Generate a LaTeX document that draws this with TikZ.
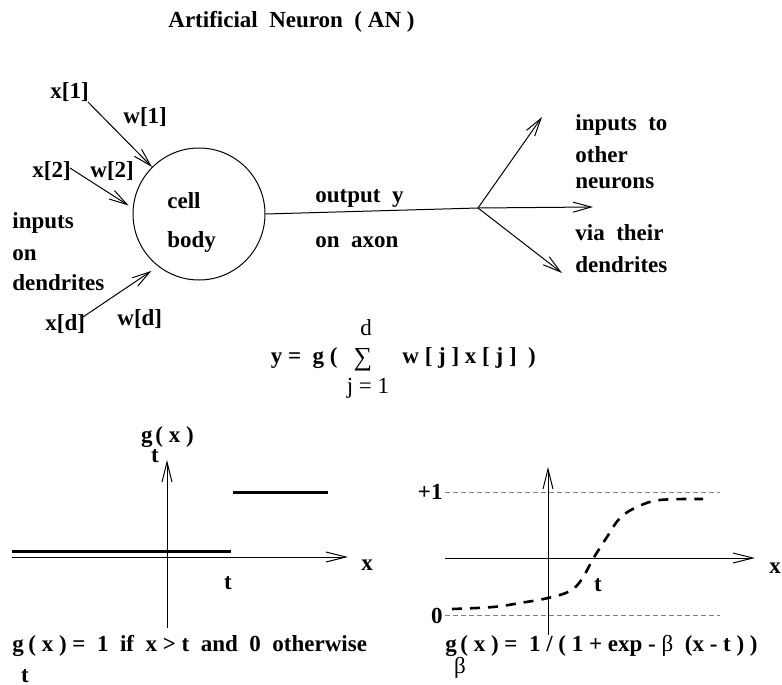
\documentclass[tikz,border=0pt]{standalone}
\usepackage{fontspec}
\setmainfont{Liberation Serif}
\usetikzlibrary{positioning, arrows.meta}

\begin{document}
\begin{tikzpicture}[
    x=0.5pt, y=-0.5pt,
    lbl/.style={font=\fontsize{11.5}{13}\selectfont\bfseries, inner sep=0pt},
    lbll/.style={lbl, anchor=base west},
    plain/.style={font=\fontsize{11.5}{13}\selectfont, inner sep=0pt},
    soma/.style={draw, circle, minimum size=66pt, inner sep=0pt, line width=0.5pt},
    arrow/.style={-{Straight Barb[length=9pt, width=5pt]}, line width=0.5pt},
    axis/.style={-{Straight Barb[length=10pt, width=5pt]}, line width=0.5pt},
    level/.style={gray, line width=0.4pt, dash pattern=on 2.5pt off 1.5pt},
    stepline/.style={line width=1.5pt},
    sigmoid/.style={line width=1.3pt, dash pattern=on 5pt off 4pt}
]
\useasboundingbox (0,0) rectangle (782,685);

% title
\node[lbll] (title) at (168,27) {Artificial~~Neuron~~( AN )};

% cell body
\node[soma] (body) at (199,214) {};
\node[lbll] (cell) at (167,208) {cell};
\node[lbll] (bodytxt) at (167,247) {body};

% inputs
\node[lbll] (x1) at (50,98) {x[1]};
\node[lbll] (w1) at (123,123) {w[1]};
\node[lbll] (x2) at (32,177) {x[2]};
\node[lbll] (w2) at (90,177) {w[2]};
\node[lbll] (in1) at (12,228) {inputs};
\node[lbll] (in2) at (12,260) {on};
\node[lbll] (in3) at (12,290) {dendrites};
\node[lbll] (xd) at (45,330) {x[d]};
\node[lbll] (wd) at (117,325) {w[d]};

\coordinate (x1tail) at (88,102);
\coordinate (x2tail) at (70,168);
\coordinate (xdtail) at (83,317);

\draw[arrow] (x1tail) -- (body.135);
\draw[arrow, shorten >=2.5pt] (x2tail) -- (body.175);
\draw[arrow, shorten >=4pt] (xdtail) -- (body.232);

% axon
\coordinate (branch) at (478,208);
\coordinate (outup) at (542,117);
\coordinate (outmid) at (593,207);
\coordinate (outdown) at (562,273);

\draw[line width=0.5pt] (body.east) -- (branch);
\draw[arrow] (branch) -- (outup);
\draw[arrow] (branch) -- (outmid);
\draw[arrow] (branch) -- (outdown);

\node[lbll] (outy) at (315,202) {output~~y};
\node[lbll] (onaxon) at (315,247) {on~~axon};

\node[lbll] (o1) at (575,130) {inputs~~to};
\node[lbll] (o2) at (575,162) {other};
\node[lbll] (o3) at (575,188) {neurons};
\node[lbll] (o4) at (575,240) {via~~their};
\node[lbll] (o5) at (575,272) {dendrites};

% sum formula
\node[lbl, anchor=base east] (yeq) at (338,363) {y =~~g (};
\node[plain, font=\fontsize{13}{15}\selectfont] (sigma) at (363,360) {∑};
\node[plain] (sumtop) at (366,328) {d};
\node[plain] (sumbot) at (368,388) {j = 1};
\node[lbll] (wx) at (402,363) {w [ j ] x [ j ]~~)};

% step function
\coordinate (sl) at (12,557);
\coordinate (sr) at (348,557);
\coordinate (sb) at (167,628);
\coordinate (st) at (167,460);
\draw[axis] (sl) -- (sr);
\draw[axis] (sb) -- (st);
\draw[stepline] (12,551) -- (231,551);
\draw[stepline] (233,492) -- (328,492);

\node[lbl] (sx) at (367,565) {x};
\node[lbl] (stt) at (228,583) {t};
\node[lbl, anchor=base east] (sg) at (153,442) {g};
\node[lbl, anchor=base west] (sgx) at (155,442) {( x )};
\node[lbl] (sgsub) at (155,456) {t};

\node[lbl, anchor=base west] (fg) at (12,651) {g};
\node[lbl, anchor=base west] (ftext) at (28,651) {( x ) =~~1~~if~~x > t~~and~~0~~otherwise};
\node[lbl] (fsub) at (25,676) {t};

% sigmoid
\coordinate (gl) at (445,558);
\coordinate (gr) at (755,558);
\coordinate (gb) at (548,635);
\coordinate (gt) at (548,467);
\draw[level] (445,492) -- (720,492);
\draw[level] (445,615) -- (720,615);
\draw[axis] (gl) -- (gr);
\draw[axis] (gb) -- (gt);
\draw[sigmoid] plot[smooth, tension=0.6] coordinates {(452,609) (493,607) (520,603) (548,598) (570,591) (582,579) (593,559) (607,537) (620,518) (637,507) (660,500) (703,499)};

\node[lbl, anchor=east] (one) at (443,492) {+1};
\node[lbl, anchor=east] (zero) at (443,616) {0};
\node[lbl] (gx) at (775,568) {x};
\node[lbl] (gtt) at (598,585) {t};

\node[lbl, anchor=base west] (bg) at (445,651) {g};
\node[lbl, anchor=base west] (btext) at (460,651) {( x ) =~~1 / ( 1 + exp - {\mdseries β}~~(x - t ) )};
\node[plain] (bsub) at (460,668) {β};
\end{tikzpicture}
\end{document}
